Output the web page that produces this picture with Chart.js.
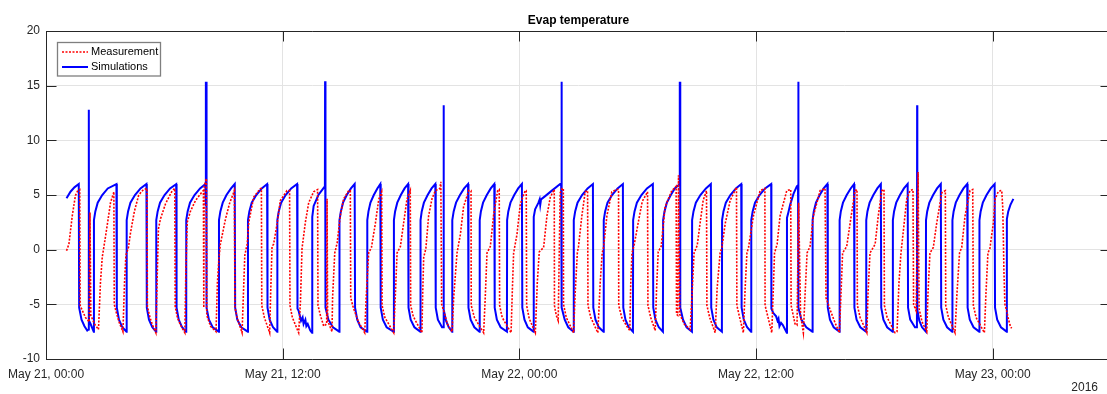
<!DOCTYPE html>
<html>
<head>
<meta charset="utf-8">
<script src="https://cdn.jsdelivr.net/npm/chart.js@4.4.1/dist/chart.umd.min.js"></script>
<style>
  html, body { margin: 0; padding: 0; background: #fff; }
  /* the axes run a little past the right edge of the figure */
  #wrap { position: relative; width: 1107px; height: 394px; overflow: hidden; }
</style>
</head>
<body>
<div id="wrap"><canvas id="evapChart" width="1120" height="394"></canvas></div>
<script>
// time axis in hours from May 21, 00:00
const xTickHours = [0, 12, 24, 36, 48];
const xTickLabels = ["May 21, 00:00", "May 21, 12:00", "May 22, 00:00", "May 22, 12:00", "May 23, 00:00"];
const yearLabel = "2016";
const seriesNames = ["Measurement", "Simulations"];

// measured evaporator temperature [hour, degC]
const measurement = [
  [1.04,-0.1],[1.16,0.5],[1.33,3.1],[1.49,4.95],[1.61,5.4],[1.71,5.5],[1.73,-5.1],[1.85,-5.6],[2.00,-6.2],[2.19,-6.6],[2.23,3.4],[2.27,-6.0],[2.46,-6.8],[2.66,-7.3],
  [2.76,-3.0],[2.85,-0.7],[2.93,0.2],[3.10,2.2],[3.27,4.3],[3.41,5.1],[3.44,5.3],[3.46,-5.0],[3.57,-5.8],[3.72,-6.7],[3.90,-7.5],
  [3.98,-3.0],[4.05,-0.5],[4.18,0.2],[4.28,1.5],[4.48,3.5],[4.70,5.0],[4.94,5.5],[5.12,5.6],[5.14,-5.2],[5.27,-6.2],[5.40,-6.9],[5.57,-7.6],
  [5.63,-3.0],[5.70,1.9],[5.80,2.8],[6.06,4.2],[6.40,5.4],[6.53,5.6],[6.55,-5.2],[6.66,-6.2],[6.82,-6.9],[7.04,-7.6],
  [7.09,-2.0],[7.16,2.5],[7.32,3.5],[7.58,4.5],[7.92,5.3],[7.98,5.4],[8.00,-5.3],[8.02,5.8],[8.13,6.5],[8.15,-6.0],[8.34,-7.0],[8.62,-7.5],
  [8.69,-3.0],[8.76,-1.0],[8.84,0.5],[9.10,2.8],[9.30,4.2],[9.53,5.3],[9.55,5.4],[9.58,-5.3],[9.70,-6.3],[9.94,-7.6],
  [10.01,-4.0],[10.08,-0.5],[10.20,0.5],[10.28,2.5],[10.53,4.8],[10.87,5.6],[10.92,5.6],[10.94,-5.1],[11.07,-6.2],[11.34,-7.6],
  [11.39,-4.0],[11.46,0.3],[11.54,0.5],[11.72,2.4],[11.88,4.5],[12.22,5.4],[12.35,5.4],[12.37,-5.1],[12.49,-6.2],[12.81,-7.6],
  [12.90,-4.8],[12.98,0.1],[13.15,2.5],[13.32,4.3],[13.57,5.3],[13.77,5.5],[13.79,-5.1],[13.91,-6.0],[14.08,-7.0],[14.23,-6.8],[14.25,4.65],[14.28,-6.5],[14.50,-7.5],
  [14.53,-4.4],[14.64,-0.3],[14.76,0.6],[14.92,3.1],[15.09,4.65],[15.35,5.4],[15.43,5.4],[15.45,-4.4],[15.58,-5.3],[15.84,-6.6],[16.16,-7.6],
  [16.23,-4.5],[16.36,-0.3],[16.50,0.2],[16.70,2.4],[16.87,4.6],[17.02,5.3],[17.04,-5.1],[17.18,-6.2],[17.63,-7.6],
  [17.71,-4.3],[17.80,-0.3],[17.97,0.3],[18.13,2.4],[18.30,4.6],[18.47,5.4],[18.49,-5.1],[18.62,-6.1],[19.06,-7.6],
  [19.10,-4.0],[19.15,-0.7],[19.26,0.1],[19.40,3.1],[19.57,4.65],[19.74,5.4],[19.86,5.5],[19.97,5.6],[20.02,6.2],[20.06,-5.0],[20.20,-5.8],[20.35,-6.8],[20.59,-7.5],
  [20.67,-4.4],[20.84,-0.3],[21.01,1.4],[21.17,3.9],[21.43,5.4],[21.55,5.4],[21.56,-5.1],[21.72,-6.2],[22.19,-7.6],
  [22.27,-4.4],[22.36,-0.3],[22.53,0.3],[22.69,3.1],[22.90,5.4],[22.98,5.5],[23.00,-5.1],[23.13,-6.2],[23.58,-7.6],
  [23.64,-4.0],[23.71,-0.3],[23.88,1.4],[24.05,4.2],[24.30,5.4],[24.35,5.4],[24.37,-5.1],[24.50,-6.3],[24.81,-7.6],
  [24.91,-3.0],[25.01,-0.2],[25.23,0.2],[25.40,3.1],[25.57,4.8],[25.77,5.5],[25.78,-5.1],[25.87,-6.0],[25.97,-6.5],[26.07,5.2],[26.17,5.6],[26.23,5.6],[26.24,-5.0],[26.38,-6.2],[26.75,-7.6],
  [26.83,-4.0],[26.94,-0.3],[27.00,0.3],[27.17,3.1],[27.34,5.3],[27.46,5.4],[27.48,-5.1],[27.62,-6.2],[27.98,-7.6],
  [28.10,-3.0],[28.20,-0.3],[28.27,0.2],[28.44,3.1],[28.69,5.3],[28.96,5.5],[29.03,5.5],[29.04,-5.1],[29.19,-6.2],[29.45,-7.0],[29.60,-7.4],
  [29.65,-3.0],[29.71,-0.3],[29.82,0.4],[30.03,2.5],[30.23,4.4],[30.47,5.2],[30.50,5.3],[30.52,-5.1],[30.66,-6.2],[30.89,-7.4],
  [30.96,-3.5],[31.04,-0.2],[31.19,0.3],[31.39,3.9],[31.73,5.4],[31.90,5.7],[31.95,5.8],[31.97,-5.9],[32.03,-6.0],[32.07,6.8],[32.13,-5.9],[32.36,-6.8],[32.66,-7.3],
  [32.76,-4.0],[32.86,-0.3],[33.02,0.4],[33.17,2.5],[33.32,4.5],[33.49,5.4],[33.51,-5.1],[33.65,-6.2],[33.93,-7.6],
  [34.03,-3.5],[34.18,-0.3],[34.27,0.2],[34.44,2.4],[34.69,4.5],[35.01,5.7],[35.03,-5.1],[35.17,-6.2],[35.36,-7.6],
  [35.45,-3.5],[35.54,-0.3],[35.62,0.2],[35.87,3.1],[36.21,5.4],[36.45,5.6],[36.46,-5.1],[36.61,-6.2],[36.80,-7.6],
  [36.87,-4.0],[36.94,-0.3],[37.07,0.5],[37.22,3.1],[37.56,5.4],[37.76,5.5],[37.78,-5.1],[37.98,-6.8],[38.08,-6.9],[38.16,4.3],[38.26,-6.0],[38.40,-7.6],
  [38.49,-4.0],[38.59,-0.3],[38.74,0.3],[38.91,3.1],[39.25,5.4],[39.50,5.6],[39.55,-4.4],[39.76,-5.5],[40.01,-6.7],[40.23,-7.6],
  [40.31,-4.0],[40.39,-0.3],[40.60,0.3],[40.77,2.4],[41.02,5.4],[41.12,5.5],[41.14,-5.1],[41.28,-6.2],[41.62,-7.6],
  [41.68,-4.0],[41.78,-0.3],[42.04,0.5],[42.20,3.1],[42.38,5.4],[42.49,5.5],[42.51,-5.1],[42.65,-6.2],[43.05,-7.6],[43.15,-7.5],
  [43.25,-3.0],[43.35,-0.3],[43.47,1.7],[43.64,4.6],[43.81,5.4],[43.96,5.5],[43.99,-5.0],[44.12,-5.6],[44.22,7.1],[44.27,-5.4],[44.42,-6.6],[44.66,-7.5],
  [44.72,-4.0],[44.82,-0.3],[44.99,0.2],[45.16,2.4],[45.42,5.2],[45.60,5.4],[45.62,-5.1],[45.76,-6.2],[46.09,-7.6],
  [46.19,-4.0],[46.32,-0.3],[46.43,0.2],[46.60,3.1],[46.85,5.4],[46.99,5.5],[47.02,-5.1],[47.16,-6.2],[47.58,-7.6],
  [47.66,-4.0],[47.76,-0.3],[47.86,0.1],[48.03,2.4],[48.12,4.6],[48.28,5.3],[48.41,5.4],[48.46,5.4],[48.51,3.9],[48.54,1.3],[48.57,-1.9],[48.62,-5.0],[48.71,-5.6],[48.79,-6.3],[48.88,-6.9],[48.96,-7.2]
];

// simulated evaporator temperature [hour, degC]
const simulation = [
  [1.04,4.7],[1.24,5.3],[1.44,5.7],[1.66,6.0],
  [1.68,-5.3],[1.80,-6.4],[1.95,-7.0],[2.09,-7.4],
  [2.16,-7.3],[2.17,12.8],[2.18,-6.5],[2.26,-6.8],[2.42,-7.5],
  [2.43,2.7],[2.50,3.5],[2.62,4.3],[2.85,5.0],[3.13,5.6],[3.57,6.0],
  [3.59,-5.3],[3.70,-6.4],[3.87,-7.1],[4.08,-7.5],
  [4.09,2.7],[4.16,3.5],[4.28,4.3],[4.51,5.0],[4.79,5.6],[5.09,6.0],
  [5.11,-5.3],[5.22,-6.4],[5.39,-7.1],[5.58,-7.5],
  [5.59,2.7],[5.66,3.5],[5.78,4.3],[6.01,5.0],[6.29,5.6],[6.60,6.0],
  [6.62,-5.3],[6.73,-6.4],[6.90,-7.1],[7.10,-7.5],
  [7.11,2.7],[7.18,3.5],[7.30,4.3],[7.53,5.0],[7.81,5.6],[8.08,6.0],
  [8.10,15.35],[8.11,4.0],[8.12,15.35],[8.14,-5.3],[8.26,-6.4],[8.45,-7.1],[8.76,-7.5],
  [8.77,2.7],[8.84,3.5],[8.96,4.3],[9.15,5.0],[9.38,5.6],[9.57,6.0],
  [9.59,-5.3],[9.70,-6.4],[9.90,-7.1],[10.23,-7.5],
  [10.24,2.7],[10.31,3.5],[10.43,4.3],[10.66,5.0],[10.94,5.6],[11.21,6.0],
  [11.23,-5.3],[11.34,-6.4],[11.51,-7.1],[11.72,-7.5],
  [11.73,2.7],[11.80,3.5],[11.92,4.3],[12.15,5.0],[12.43,5.6],[12.73,6.0],
  [12.75,-5.4],[12.81,-5.6],[12.93,-6.5],[13.01,-6.2],[13.06,-6.8],[13.15,-6.4],[13.20,-7.0],[13.27,-6.8],[13.40,-7.4],[13.49,-7.6],
  [13.50,3.0],[13.57,4.0],[13.81,5.0],[14.06,5.6],[14.14,5.8],[14.15,15.4],[14.17,-5.3],[14.32,-6.4],[14.55,-7.1],[14.87,-7.5],
  [14.88,2.7],[14.95,3.5],[15.06,4.3],[15.25,5.0],[15.46,5.6],[15.65,6.0],
  [15.67,-5.3],[15.78,-6.4],[15.95,-7.1],[16.28,-7.5],
  [16.29,2.7],[16.35,3.5],[16.45,4.3],[16.62,5.0],[16.80,5.6],[16.95,6.0],
  [16.97,-5.3],[17.08,-6.4],[17.27,-7.1],[17.63,-7.5],
  [17.64,2.7],[17.70,3.5],[17.81,4.3],[17.99,5.0],[18.18,5.6],[18.36,6.0],
  [18.38,-5.3],[18.49,-6.4],[18.68,-7.1],[18.98,-7.5],
  [18.99,2.7],[19.05,3.5],[19.16,4.3],[19.35,5.0],[19.55,5.6],[19.74,6.0],
  [19.76,-5.3],[19.87,-6.4],[20.08,-7.1],
  [20.15,-7.1],[20.16,13.2],[20.17,-5.5],[20.28,-6.5],[20.42,-7.1],[20.59,-7.5],
  [20.60,2.7],[20.67,3.5],[20.79,4.3],[20.99,5.0],[21.20,5.6],[21.40,6.0],
  [21.42,-5.3],[21.53,-6.4],[21.72,-7.1],[21.98,-7.5],
  [21.99,2.7],[22.05,3.5],[22.16,4.3],[22.35,5.0],[22.55,5.6],[22.73,6.0],
  [22.75,-5.3],[22.86,-6.4],[23.05,-7.1],[23.37,-7.5],
  [23.38,2.7],[23.44,3.5],[23.55,4.3],[23.74,5.0],[23.94,5.6],[24.13,6.0],
  [24.15,-5.3],[24.26,-6.4],[24.43,-7.1],[24.72,-7.5],
  [24.73,3.0],[24.80,3.7],[24.97,4.3],[25.03,4.6],[25.06,4.1],[25.10,4.6],[25.31,4.9],[25.65,5.4],[26.07,6.0],
  [26.12,6.0],[26.13,15.35],[26.14,4.0],[26.15,15.35],[26.16,-5.3],[26.30,-6.4],[26.48,-7.1],[26.75,-7.5],
  [26.76,2.7],[26.83,3.5],[26.95,4.3],[27.18,5.0],[27.46,5.6],[27.73,6.0],
  [27.75,-5.3],[27.86,-6.4],[28.03,-7.1],[28.27,-7.5],
  [28.28,2.7],[28.35,3.5],[28.47,4.3],[28.70,5.0],[28.98,5.6],[29.25,6.0],
  [29.27,-5.3],[29.38,-6.4],[29.55,-7.1],[29.76,-7.5],
  [29.77,2.7],[29.84,3.5],[29.96,4.3],[30.19,5.0],[30.47,5.6],[30.77,6.0],
  [30.79,-5.3],[30.90,-6.4],[31.07,-7.1],[31.28,-7.5],
  [31.29,2.7],[31.36,3.5],[31.48,4.3],[31.68,5.0],[31.88,5.6],[32.07,5.9],
  [32.12,6.0],[32.13,15.35],[32.14,6.0],[32.15,15.35],[32.16,-5.3],[32.30,-6.4],[32.48,-7.1],[32.75,-7.5],
  [32.76,2.7],[32.83,3.5],[32.95,4.3],[33.18,5.0],[33.46,5.6],[33.71,6.0],
  [33.73,-5.3],[33.84,-6.4],[34.01,-7.1],[34.27,-7.5],
  [34.28,2.7],[34.35,3.5],[34.47,4.3],[34.70,5.0],[34.98,5.6],[35.25,6.0],
  [35.27,-5.3],[35.38,-6.4],[35.55,-7.1],[35.75,-7.5],
  [35.76,2.7],[35.83,3.5],[35.95,4.3],[36.18,5.0],[36.46,5.6],[36.77,6.0],
  [36.78,-5.4],[36.88,-5.8],[37.02,-6.1],[37.09,-6.5],[37.14,-6.3],[37.19,-7.0],[37.27,-6.7],[37.36,-6.9],[37.56,-7.6],
  [37.57,2.9],[37.64,3.4],[37.73,4.1],[37.90,5.1],[38.07,5.8],
  [38.13,5.9],[38.14,15.35],[38.16,-5.3],[38.30,-6.4],[38.55,-7.1],[38.86,-7.5],
  [38.87,2.7],[38.93,3.5],[39.04,4.3],[39.23,5.0],[39.43,5.6],[39.62,6.0],
  [39.64,-5.3],[39.75,-6.4],[39.94,-7.1],[40.23,-7.5],
  [40.24,2.7],[40.30,3.5],[40.41,4.3],[40.60,5.0],[40.80,5.6],[40.97,6.0],
  [40.99,-5.3],[41.10,-6.4],[41.29,-7.1],[41.58,-7.5],
  [41.59,2.7],[41.65,3.5],[41.76,4.3],[41.95,5.0],[42.15,5.6],[42.33,6.0],
  [42.35,-5.3],[42.46,-6.4],[42.65,-7.1],[42.93,-7.5],
  [42.94,2.7],[43.00,3.5],[43.11,4.3],[43.30,5.0],[43.50,5.6],[43.69,6.0],
  [43.71,-5.3],[43.82,-6.4],[44.06,-7.1],
  [44.16,-7.1],[44.17,13.2],[44.18,-5.5],[44.28,-6.5],[44.42,-7.1],[44.61,-7.5],
  [44.62,2.7],[44.68,3.5],[44.79,4.3],[44.98,5.0],[45.18,5.6],[45.37,6.0],
  [45.39,-5.3],[45.50,-6.4],[45.69,-7.1],[45.95,-7.5],
  [45.96,2.7],[46.02,3.5],[46.13,4.3],[46.32,5.0],[46.52,5.6],[46.71,6.0],
  [46.73,-5.3],[46.84,-6.4],[47.03,-7.1],[47.32,-7.5],
  [47.33,2.7],[47.39,3.5],[47.50,4.3],[47.69,5.0],[47.90,5.6],[48.10,6.0],
  [48.12,-5.3],[48.23,-6.4],[48.42,-7.1],[48.71,-7.5],
  [48.72,2.8],[48.79,3.5],[48.90,4.1],[49.05,4.65]
];

const FONT = "'Liberation Sans', Arial, Helvetica, sans-serif";
const AXIS_COLOR = "#262626";
const TICK_LEN = 10.5;

// box around the axes with inward tick marks on all four sides, plus title and year
const matlabAxes = {
  id: "matlabAxes",
  afterDatasetsDraw(chart) {
    const { ctx, chartArea: a, scales } = chart;
    ctx.save();
    ctx.strokeStyle = AXIS_COLOR;
    ctx.lineWidth = 1;
    ctx.beginPath();
    ctx.rect(Math.round(a.left) + 0.5, Math.round(a.top) + 0.5,
             Math.round(a.right - a.left), Math.round(a.bottom - a.top));
    ctx.stroke();

    ctx.beginPath();
    xTickHours.forEach((h) => {
      const x = Math.round(scales.x.getPixelForValue(h)) + 0.5;
      ctx.moveTo(x, a.bottom); ctx.lineTo(x, a.bottom - TICK_LEN);
      ctx.moveTo(x, a.top); ctx.lineTo(x, a.top + TICK_LEN);
    });
    scales.y.ticks.forEach((t) => {
      const y = Math.round(scales.y.getPixelForValue(t.value)) + 0.5;
      ctx.moveTo(a.left, y); ctx.lineTo(a.left + TICK_LEN, y);
      ctx.moveTo(a.right, y); ctx.lineTo(a.right - TICK_LEN, y);
    });
    ctx.stroke();

    ctx.fillStyle = "#000";
    ctx.font = "bold 12px " + FONT;
    ctx.textAlign = "center";
    ctx.textBaseline = "middle";
    ctx.fillText("Evap temperature", (a.left + a.right) / 2, 21);

    ctx.fillStyle = AXIS_COLOR;
    ctx.font = "12px " + FONT;
    ctx.textAlign = "right";
    ctx.fillText(yearLabel, 1098, 388);
    ctx.restore();
  },
};

// legend box in the upper left corner of the axes
const legendBox = {
  id: "legendBox",
  afterDraw(chart) {
    const { ctx } = chart;
    const x0 = 57.5, y0 = 42.5, w = 103, h = 33.5;
    ctx.save();
    ctx.fillStyle = "#fff";
    ctx.fillRect(x0, y0, w, h);
    ctx.strokeStyle = "#7f7f7f";
    ctx.lineWidth = 1.3;
    ctx.strokeRect(x0, y0, w, h);
    ctx.font = "11px " + FONT;
    ctx.textBaseline = "middle";
    ctx.textAlign = "left";
    chart.data.datasets.forEach((ds, i) => {
      const y = 52 + i * 15;
      ctx.beginPath();
      ctx.strokeStyle = ds.borderColor;
      ctx.lineWidth = ds.borderWidth;
      ctx.setLineDash(ds.borderDash || []);
      ctx.moveTo(62, y);
      ctx.lineTo(88, y);
      ctx.stroke();
      ctx.setLineDash([]);
      ctx.fillStyle = "#000";
      ctx.fillText(ds.label, 91, y);
    });
    ctx.restore();
  },
};

const toPoints = (rows) => rows.map(([t, v]) => ({ x: t, y: v }));

const chart = new Chart(document.getElementById("evapChart"), {
  type: "line",
  data: {
    datasets: [
      {
        label: seriesNames[0],
        data: toPoints(measurement),
        borderColor: "rgb(255, 0, 0)",
        borderWidth: 1.6,
        borderDash: [2, 1.5],
        pointRadius: 0,
        tension: 0,
        fill: false,
      },
      {
        label: seriesNames[1],
        data: toPoints(simulation),
        borderColor: "rgb(0, 0, 255)",
        borderWidth: 2,
        pointRadius: 0,
        tension: 0,
        fill: false,
      },
    ],
  },
  options: {
    responsive: false,
    animation: false,
    devicePixelRatio: 1,
    parsing: false,
    layout: { padding: { left: 0, right: 9, top: 31, bottom: 0 } },
    plugins: {
      legend: { display: false },
      title: { display: false },
      tooltip: { enabled: false },
    },
    scales: {
      x: {
        type: "linear",
        min: 0,
        max: 54,
        afterFit: (scale) => { scale.height = 35; },
        afterBuildTicks: (scale) => { scale.ticks = xTickHours.map((v) => ({ value: v })); },
        grid: { color: "#e3e3e3", lineWidth: 1, drawTicks: false },
        border: { display: false },
        ticks: {
          padding: 8,
          maxRotation: 0,
          autoSkip: false,
          color: AXIS_COLOR,
          font: { family: FONT, size: 12 },
          callback: (value) => xTickLabels[xTickHours.indexOf(value)],
        },
      },
      y: {
        min: -10,
        max: 20,
        afterFit: (scale) => { scale.width = 46; },
        grid: { color: "#e3e3e3", lineWidth: 1, drawTicks: false },
        border: { display: false },
        ticks: {
          stepSize: 5,
          padding: 6,
          color: AXIS_COLOR,
          font: { family: FONT, size: 12 },
        },
      },
    },
  },
  plugins: [matlabAxes, legendBox],
});
</script>
</body>
</html>
